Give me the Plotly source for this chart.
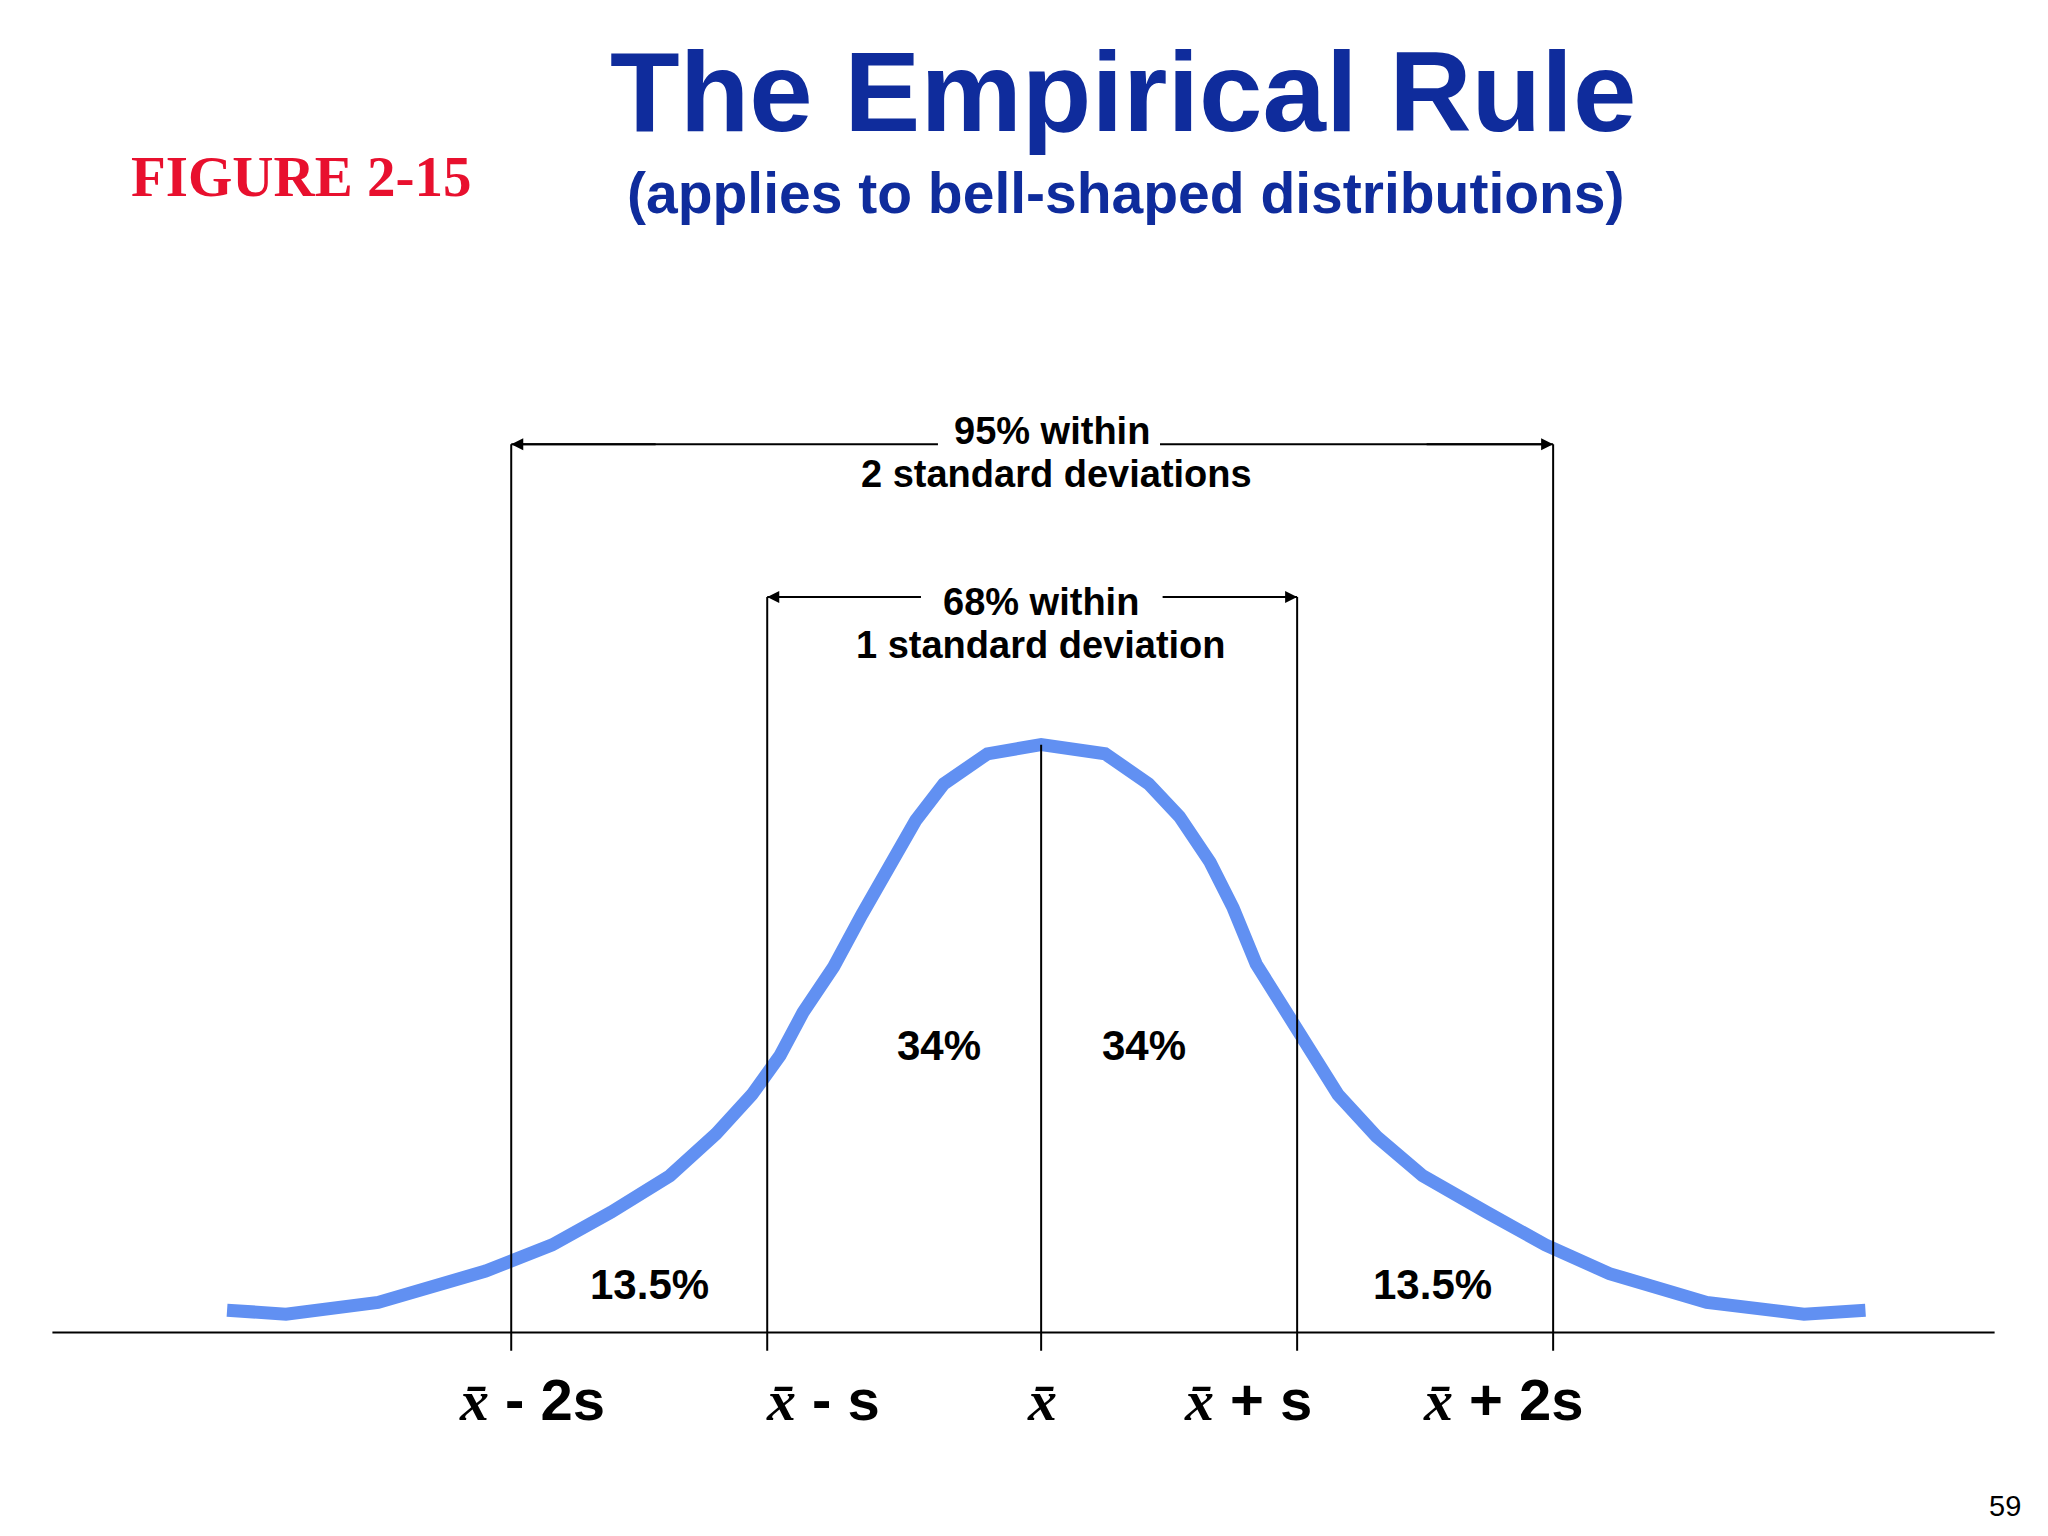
import plotly.graph_objects as go

# Bell curve (x in standard deviations from mean, y = height above baseline)
curve_x = [-3.18, -2.95, -2.59, -2.17, -1.91, -1.68, -1.45, -1.27, -1.13, -1.02, -0.93, -0.81, -0.70, -0.59, -0.49, -0.38, -0.21, 0.0,
           0.25, 0.42, 0.54, 0.66, 0.75, 0.84, 0.98, 1.05, 1.16, 1.31, 1.49, 1.74, 1.97, 2.22, 2.60, 2.98, 3.22]
curve_y = [17, 14, 23, 47, 67, 92, 120, 152, 182, 212, 245, 280, 320, 360, 392, 420, 443, 450,
           443, 420, 395, 360, 325, 282, 240, 215, 182, 150, 120, 92, 67, 45, 23, 14, 17]
tick_pos = [-2.07, -1.07, 0, 1, 2]
tick_labels = [" - 2s", " - s", "", " + s", " + 2s"]
pct_labels = ["13.5%", "34%", "34%", "13.5%"]
pct_x = [-1.53, -0.40, 0.40, 1.53]
pct_y = [37, 220, 220, 37]

S = 196.0; X0 = 797.0; BASE = 1020.0
def px(x): return (x - X0) / S
def py(y): return BASE - y

fig = go.Figure()
fig.add_trace(go.Scatter(x=curve_x, y=curve_y, mode="lines",
                         line=dict(color="#6190f2", width=13), hoverinfo="skip"))
blk = dict(color="black", width=2)
shapes = [dict(type="line", x0=px(40), x1=px(1527), y0=0, y1=0, line=blk)]
tops = [py(340), py(457), 450, py(457), py(340)]
for t, top in zip(tick_pos, tops):
    shapes.append(dict(type="line", x0=t, x1=t, y0=-14, y1=top, line=blk))
shapes += [dict(type="line", x0=tick_pos[0], x1=px(718), y0=py(340), y1=py(340), line=blk),
           dict(type="line", x0=px(888), x1=tick_pos[4], y0=py(340), y1=py(340), line=blk),
           dict(type="line", x0=tick_pos[1], x1=px(705), y0=py(457), y1=py(457), line=blk),
           dict(type="line", x0=px(890), x1=tick_pos[3], y0=py(457), y1=py(457), line=blk)]

ann = []
for (xe, xs, y) in [(tick_pos[0], -1.5, py(340)), (tick_pos[4], 1.5, py(340)),
                    (tick_pos[1], -0.6, py(457)), (tick_pos[3], 0.6, py(457))]:
    ann.append(dict(x=xe, y=y, ax=xs, ay=y, axref="x", ayref="y", xref="x", yref="y", text="",
                    showarrow=True, arrowhead=2, arrowsize=1.2, arrowwidth=2, arrowcolor="black"))
def txt(x, y, s, size, color="black", family="Liberation Sans, Arial", xanchor="center"):
    ann.append(dict(x=x, y=y, xref="x", yref="y", text=s, showarrow=False, xanchor=xanchor,
                    yanchor="middle", font=dict(size=size, color=color, family=family)))
txt(px(805), py(330), "<b>95% within</b>", 38)
txt(px(809), py(363), "<b>2 standard deviations</b>", 38)
txt(px(797), py(461), "<b>68% within</b>", 38)
txt(px(797), py(494), "<b>1 standard deviation</b>", 38)
for xx, yy, s in zip(pct_x, pct_y, pct_labels):
    txt(xx, yy, "<b>" + s + "</b>", 42)
label_left = [350, 585, 785, 905, 1088]
for xl, s in zip(label_left, tick_labels):
    txt(px(xl), py(1072),
        "<span style='font-family:Liberation Serif'><b><i>x̄</i></b></span><b>" + s + "</b>",
        58, xanchor="left")
txt(px(860), py(70), "<b>The Empirical Rule</b>", 114, color="#0f2c9c")
txt(px(862), py(148), "<b>(applies to bell-shaped distributions)</b>", 57, color="#0f2c9c")
txt(px(230), py(135), "<b>FIGURE 2-15</b>", 57, color="#e8102e", family="Liberation Serif, Times New Roman")
txt(px(1535), py(1153), "59", 29)

# compensate for 8px page body margin (~6 px at reference scale)
fig.update_layout(width=2048, height=1536, margin=dict(l=0, r=0, t=0, b=0),
                  plot_bgcolor="white", paper_bgcolor="white", showlegend=False,
                  shapes=shapes, annotations=ann,
                  xaxis=dict(range=[px(6), px(1574)], visible=False, fixedrange=True),
                  yaxis=dict(range=[py(1182), py(6)], visible=False, fixedrange=True))
fig.write_html("out.html")
